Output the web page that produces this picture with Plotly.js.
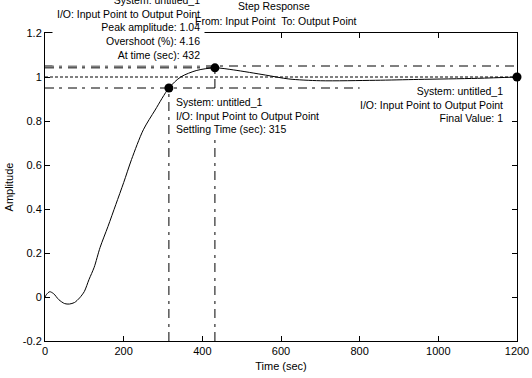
<!DOCTYPE html>
<html>
<head>
<meta charset="utf-8">
<script src="https://cdn.plot.ly/plotly-3.0.1.min.js"></script>
<style>html,body{margin:0;padding:0;background:#fff;}#chart{width:532px;height:378px;}</style>
</head>
<body>
<div id="chart"></div>
<script>
// ---- data ----
const timeSec = [0, 4, 12, 22, 35, 50, 62, 75, 88, 100, 112, 125, 140, 160, 180, 200, 220, 250, 280, 315, 345, 386, 432, 480, 560, 620, 700, 840, 950, 1100, 1200];
const amplitude = [0, 0.012, 0.024, 0.015, -0.012, -0.03, -0.032, -0.025, -0.004, 0.025, 0.08, 0.135, 0.225, 0.32, 0.42, 0.52, 0.625, 0.76, 0.85, 0.95, 1.0, 1.03, 1.0416, 1.032, 1.009, 0.991, 0.983, 0.985, 0.989, 0.994, 1.0];
const settlingTime = 315;
const settlingLevel = 0.95;
const upperBound = 1.05;
const lowerBoundEnd = 800;
const peakTime = 432;
const peakAmp = 1.0416;
const finalTime = 1200;
const finalValue = 1;
const xTicks = [0, 200, 400, 600, 800, 1000, 1200];
const xTickText = ["0", "200", "400", "600", "800", "1000", "1200"];
const yTicks = [-0.2, 0, 0.2, 0.4, 0.6, 0.8, 1, 1.2];
const yTickText = ["-0.2", "0", "0.2", "0.4", "0.6", "0.8", "1", "1.2"];
const titleText = "Step Response";
const subTitleText = "From: Input Point  To: Output Point";
const peakNote = ["System: untitled_1", "I/O: Input Point to Output Point", "Peak amplitude: 1.04", "Overshoot (%): 4.16", "At time (sec): 432"];
const settleNote = ["System: untitled_1", "I/O: Input Point to Output Point", "Settling Time (sec): 315"];
const finalNote = ["System: untitled_1", "I/O: Input Point to Output Point", "Final Value: 1"];

// ---- layout helpers (pixel -> paper) ----
const L = 45, R = 517, T = 33, B = 341;
const px = p => (p - L) / (R - L);
const py = p => (B - p) / (B - T);
const FONT = "Arial, 'Liberation Sans', sans-serif";
const DASHDOT = "9px,5px,3px,6px";
const TXT = 10.5;

const traces = [
  {x: [0, finalTime], y: [upperBound, upperBound], mode: "lines", line: {color: "#000", width: 1, dash: DASHDOT}, hoverinfo: "skip"},
  {x: [0, peakTime], y: [peakAmp, peakAmp], mode: "lines", line: {color: "#000", width: 1, dash: DASHDOT}, hoverinfo: "skip"},
  {x: [0, lowerBoundEnd], y: [settlingLevel, settlingLevel], mode: "lines", line: {color: "#000", width: 1, dash: DASHDOT}, hoverinfo: "skip"},
  {x: [0, finalTime], y: [finalValue, finalValue], mode: "lines", line: {color: "#000", width: 1, dash: "3px,2px"}, hoverinfo: "skip"},
  {x: [settlingTime, settlingTime], y: [yTicks[0], settlingLevel], mode: "lines", line: {color: "#000", width: 1, dash: DASHDOT}, hoverinfo: "skip"},
  {x: [peakTime, peakTime], y: [yTicks[0], peakAmp], mode: "lines", line: {color: "#000", width: 1, dash: DASHDOT}, hoverinfo: "skip"},
  {x: timeSec, y: amplitude, mode: "lines", line: {color: "#000", width: 1, shape: "spline", smoothing: 0.8}},
  {x: [settlingTime, peakTime, finalTime], y: [settlingLevel, peakAmp, finalValue], mode: "markers",
   marker: {color: "#000", size: 9, symbol: "circle"}, cliponaxis: false}
];

const axisCommon = {
  showgrid: false, zeroline: false, showline: true, linecolor: "#000", linewidth: 1,
  mirror: "ticks", ticks: "inside", ticklen: 5, tickcolor: "#000", tickwidth: 1,
  tickfont: {family: FONT, size: 11, color: "#000"}, fixedrange: true
};

const layout = {
  width: 532, height: 378,
  margin: {l: L, r: 532 - R, t: T, b: 378 - B, pad: 0},
  paper_bgcolor: "#fff", plot_bgcolor: "#fff",
  showlegend: false,
  font: {family: FONT, size: 11, color: "#000"},
  xaxis: Object.assign({}, axisCommon, {
    range: [0, 1200], tickmode: "array", tickvals: xTicks, ticktext: xTickText,
    title: {text: "Time (sec)", font: {family: FONT, size: 11, color: "#000"}, standoff: 6}
  }),
  yaxis: Object.assign({}, axisCommon, {
    range: [-0.2, 1.2], tickmode: "array", tickvals: yTicks, ticktext: yTickText,
    title: {text: "Amplitude", font: {family: FONT, size: 11, color: "#000"}, standoff: 6}
  }),
  annotations: [
    {xref: "paper", yref: "paper", x: px(205), y: py(27), text: peakNote.join("<br>"), showarrow: false,
     xanchor: "right", yanchor: "middle", align: "right", bgcolor: "#fff", borderpad: 4,
     font: {family: FONT, size: TXT, color: "#000"}},
    {xref: "paper", yref: "paper", x: px(274), y: py(6), text: titleText, showarrow: false,
     xanchor: "center", yanchor: "middle", font: {family: FONT, size: TXT, color: "#000"}},
    {xref: "paper", yref: "paper", x: px(276), y: py(21), text: subTitleText, showarrow: false,
     xanchor: "center", yanchor: "middle", font: {family: FONT, size: TXT, color: "#000"}},
    {xref: "paper", yref: "paper", x: px(172), y: py(115), text: settleNote.join("<br>"), showarrow: false,
     xanchor: "left", yanchor: "middle", align: "left", bgcolor: "#fff", borderpad: 3,
     font: {family: FONT, size: TXT, color: "#000"}},
    {xref: "paper", yref: "paper", x: px(507), y: py(105), text: finalNote.join("<br>"), showarrow: false,
     xanchor: "right", yanchor: "middle", align: "right", borderpad: 3,
     font: {family: FONT, size: TXT, color: "#000"}}
  ]
};

Plotly.newPlot("chart", traces, layout, {staticPlot: true, displayModeBar: false});
</script>
</body>
</html>
